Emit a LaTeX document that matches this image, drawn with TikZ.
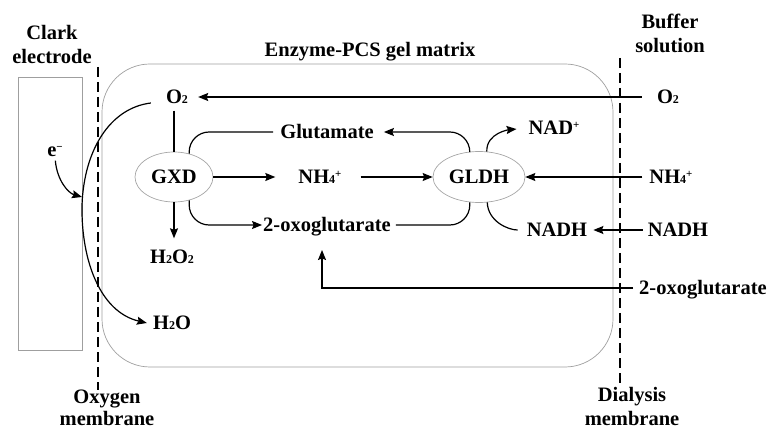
\documentclass[tikz,border=0pt]{standalone}
\usepackage{fontspec}
\setmainfont{Liberation Serif}
\usetikzlibrary{arrows.meta,shapes.geometric}
\newcommand{\lo}[1]{{\fontsize{12}{12}\selectfont #1}}
\newcommand{\hi}[1]{\raisebox{5.5pt}{\fontsize{11}{11}\selectfont #1}}
\begin{document}
\begin{tikzpicture}[x=1pt,y=-1pt,
  lbl/.style={font=\bfseries\fontsize{20.5}{24}\selectfont, inner sep=0pt, text height=13pt, text depth=0pt},
  conn/.style={line width=1.2pt},
  arr/.style={conn, -{Stealth[length=10pt,width=8pt,inset=1.5pt]}},
  enz/.style={lbl, ellipse, draw=gray!70, line width=0.7pt, fill=white},
  memb/.style={line width=1.8pt, dash pattern=on 10pt off 5pt},
  frame/.style={draw=gray!75, line width=0.7pt}]
\useasboundingbox (0,0) rectangle (771,430);
% electrode and gel
\draw[frame] (18,77) rectangle (82,350);
\draw[frame, rounded corners=48pt] (102,64) rectangle (613,367);
\draw[memb] (98,67) -- (98,390);
\draw[memb] (620,58) -- (620,385);
% titles
\node[lbl] (clark1) at (52,33) {Clark};
\node[lbl] (clark2) at (52,57) {electrode};
\node[lbl] (gel) at (370,50) {Enzyme-PCS gel matrix};
\node[lbl] (buf1) at (670,22) {Buffer};
\node[lbl] (buf2) at (670,46) {solution};
\node[lbl] (oxm1) at (107,397) {Oxygen};
\node[lbl] (oxm2) at (107,419) {membrane};
\node[lbl] (dim1) at (632,395) {Dialysis};
\node[lbl] (dim2) at (632,419) {membrane};
% species
\node[lbl] (o2l) at (177,97) {O\lo{2}};
\node[lbl] (o2r) at (668,97) {O\lo{2}};
\node[enz, minimum width=78pt, minimum height=50pt] (gxd) at (174,177) {GXD};
\node[enz, minimum width=92pt, minimum height=51pt] (gldh) at (479,177) {GLDH};
\node[lbl] (glu) at (327,132) {Glutamate};
\node[lbl] (nh4) at (320,177) {NH\lo{4}\hi{+}};
\node[lbl] (oxo) at (327,225) {2-oxoglutarate};
\node[lbl] (h2o2) at (172,257) {H\lo{2}O\lo{2}};
\node[lbl] (h2o) at (172,323) {H\lo{2}O};
\node[lbl] (el) at (55,150) {e\hi{\char"2212}};
\node[lbl] (nad) at (554,128) {NAD\hi{+}};
\node[lbl] (nh4r) at (671,177) {NH\lo{4}\hi{+}};
\node[lbl] (nadhr) at (678,230) {NADH};
\node[lbl] (nadhl) at (557,230) {NADH};
\node[lbl] (oxor) at (703,288) {2-oxoglutarate};
\coordinate (ec) at (82,205);
\coordinate (etip) at (82,197);
\coordinate (oxotip) at (322,250);
% connectors
\draw[arr, shorten <=15pt, shorten >=10pt] (o2r.west) -- (o2l.east);
\draw[conn, shorten <=7pt] (o2l.south -| gxd.north) -- (gxd.north);
\draw[arr, shorten >=12pt] (gxd.south) -- (gxd.south |- h2o2.north);
\draw[arr, shorten >=23pt] (gxd.east) -- (nh4.west);
\draw[arr, shorten <=19pt] (nh4.east) -- (gldh.west);
\draw[conn, rounded corners=20pt, shorten >=7pt] (gxd.57) |- (glu.west);
\draw[arr, rounded corners=20pt, shorten >=10pt] (gldh.110) |- (glu.east);
\draw[arr, rounded corners=20pt, shorten >=1pt] (gxd.-57) |- (oxo.west);
\draw[conn, rounded corners=20pt, shorten <=5pt] (oxo.east) -| (gldh.-110);
\draw[arr, shorten >=12pt] (gldh.73) to[out=92,in=185] (nad.west);
\draw[arr, shorten <=7pt] (nh4r.west) -- (gldh.east);
\draw[arr, shorten <=5pt, shorten >=6pt] (nadhr.west) -- (nadhl.east);
\draw[conn, shorten >=9pt] (gldh.-72) to[out=-88,in=180] (nadhl.west);
\draw[arr, shorten <=6pt] (oxor.west) -| (oxotip);
\draw[arr] ([xshift=-15pt,yshift=-6pt]o2l.west) .. controls (110,108) and (84,150) .. (ec)
  .. controls (81,260) and (100,312) .. ([xshift=-6pt]h2o.west);
\draw[arr, shorten <=4pt] (el.south) .. controls (57,180) and (68,193) .. (etip);
\end{tikzpicture}
\end{document}
